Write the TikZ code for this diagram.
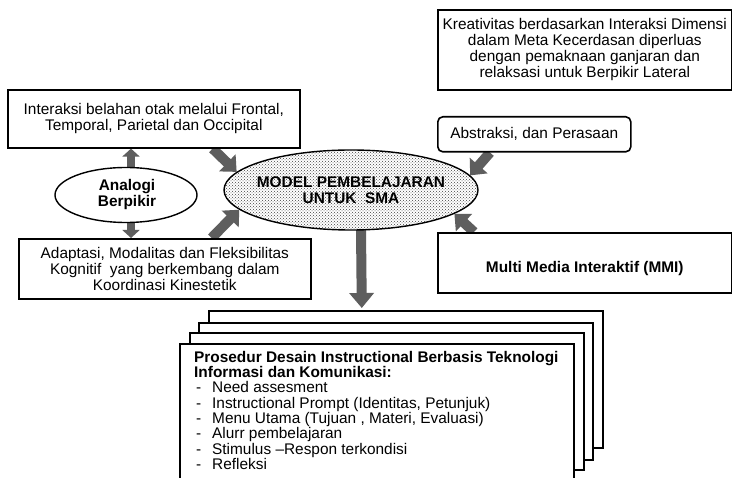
\documentclass[tikz,border=0pt]{standalone}
\usepackage{fontspec}
\setmainfont{Liberation Sans}
\usetikzlibrary{arrows.meta,patterns,shapes.geometric,backgrounds}

\definecolor{arrowgray}{gray}{0.37}

\begin{document}
\begin{tikzpicture}[x=1pt,y=-1pt,
  txt/.style={font=\fontsize{15.4}{16}\selectfont},
  boldtxt/.style={font=\fontsize{15.4}{16}\selectfont\bfseries},
  box/.style={draw=black,line width=1.6pt,fill=white,inner sep=0pt,
    align=center,anchor=north west},
  sheet/.style={box,minimum width=394pt,minimum height=137pt},
  bigarrow/.style={draw=arrowgray,line width=10pt,
    -{Triangle[length=13pt,width=23pt]}},
  smallarrow/.style={draw=arrowgray,line width=8pt,
    -{Triangle[length=8pt,width=17pt]}},
]
\clip (0,0) rectangle (732,478);

% text boxes
\node[box,txt,minimum width=294pt,minimum height=80pt] (kre) at (437,9)
  {Kreativitas berdasarkan Interaksi Dimensi\\dalam Meta Kecerdasan diperluas\\dengan pemaknaan ganjaran dan\\relaksasi untuk Berpikir Lateral};
\node[box,txt,minimum width=292pt,minimum height=58pt] (tl) at (7,89)
  {Interaksi belahan otak melalui Frontal,\\Temporal, Parietal dan Occipital};
\node[box,txt,minimum width=193pt,minimum height=35pt,rounded corners=5pt] (abs) at (437,116)
  {Abstraksi, dan Perasaan};
\node[box,txt,minimum width=292pt,minimum height=60pt] (bl) at (18,238)
  {Adaptasi, Modalitas dan Fleksibilitas\\Kognitif\ \ yang berkembang dalam\\Koordinasi Kinestetik};
\node[box,minimum width=294pt,minimum height=60pt,
  label={[boldtxt,yshift=-6pt]center:Multi Media Interaktif (MMI)}] (mmi) at (437,232) {};

% central ellipse and the side ellipse
\node[ellipse,draw=black,line width=1.4pt,inner sep=0pt,
  minimum width=254pt,minimum height=80pt,
  preaction={fill=white},pattern=crosshatch dots,pattern color=black!75,
  label={[boldtxt,align=center]center:MODEL PEMBELAJARAN\\UNTUK\ \ SMA}] (main) at (351,190) {};
\node[ellipse,draw=black,line width=1.4pt,fill=white,inner sep=0pt,
  minimum width=142pt,minimum height=55pt,
  label={[boldtxt,align=center,xshift=1pt]center:Analogi\\Berpikir}] (an) at (126,195) {};

% stacked sheets, back to front
\node[sheet] (st4) at (208,310) {};
\node[sheet] (st3) at (198,322) {};
\node[sheet] (st2) at (189,332) {};
\node[sheet] (st1) at (179,343) {};
\node[txt,anchor=north west,align=left,inner sep=0pt,
  font=\fontsize{15.4}{15.3}\selectfont] (proc) at (194,351)
  {\textbf{Prosedur Desain Instructional Berbasis Teknologi}\\
   \textbf{Informasi dan Komunikasi:}\\
   \makebox[18pt][l]{\hspace{2pt}-}Need assesment\\
   \makebox[18pt][l]{\hspace{2pt}-}Instructional Prompt (Identitas, Petunjuk)\\
   \makebox[18pt][l]{\hspace{2pt}-}Menu Utama (Tujuan , Materi, Evaluasi)\\
   \makebox[18pt][l]{\hspace{2pt}-}Alurr pembelajaran\\
   \makebox[18pt][l]{\hspace{2pt}-}Stimulus –Respon terkondisi\\
   \makebox[18pt][l]{\hspace{2pt}-}Refleksi};

% connectors behind the shapes
\begin{scope}[on background layer]
  \fill[white] (0,0) rectangle (732,478);
  \draw[bigarrow] ([xshift=-88pt]tl.south east) -- (main.171);
  \draw[bigarrow] ([xshift=-100pt]bl.north east) -- (main.190);
  \draw[bigarrow] ([xshift=53pt]abs.south west) -- (main.7);
  \draw[bigarrow] ([xshift=37pt]mmi.north west) -- (main.347);
  \draw[bigarrow,-{Triangle[length=15pt,width=24pt]}]
    ([xshift=10pt,yshift=1pt]main.south) -- ([xshift=-44pt,yshift=2pt]st4.north);
  \draw[smallarrow] ([xshift=5pt]an.north) -- ([xshift=124pt]tl.south west);
  \draw[smallarrow] ([xshift=5pt]an.south) -- ([xshift=113pt]bl.north west);
\end{scope}
\end{tikzpicture}
\end{document}
